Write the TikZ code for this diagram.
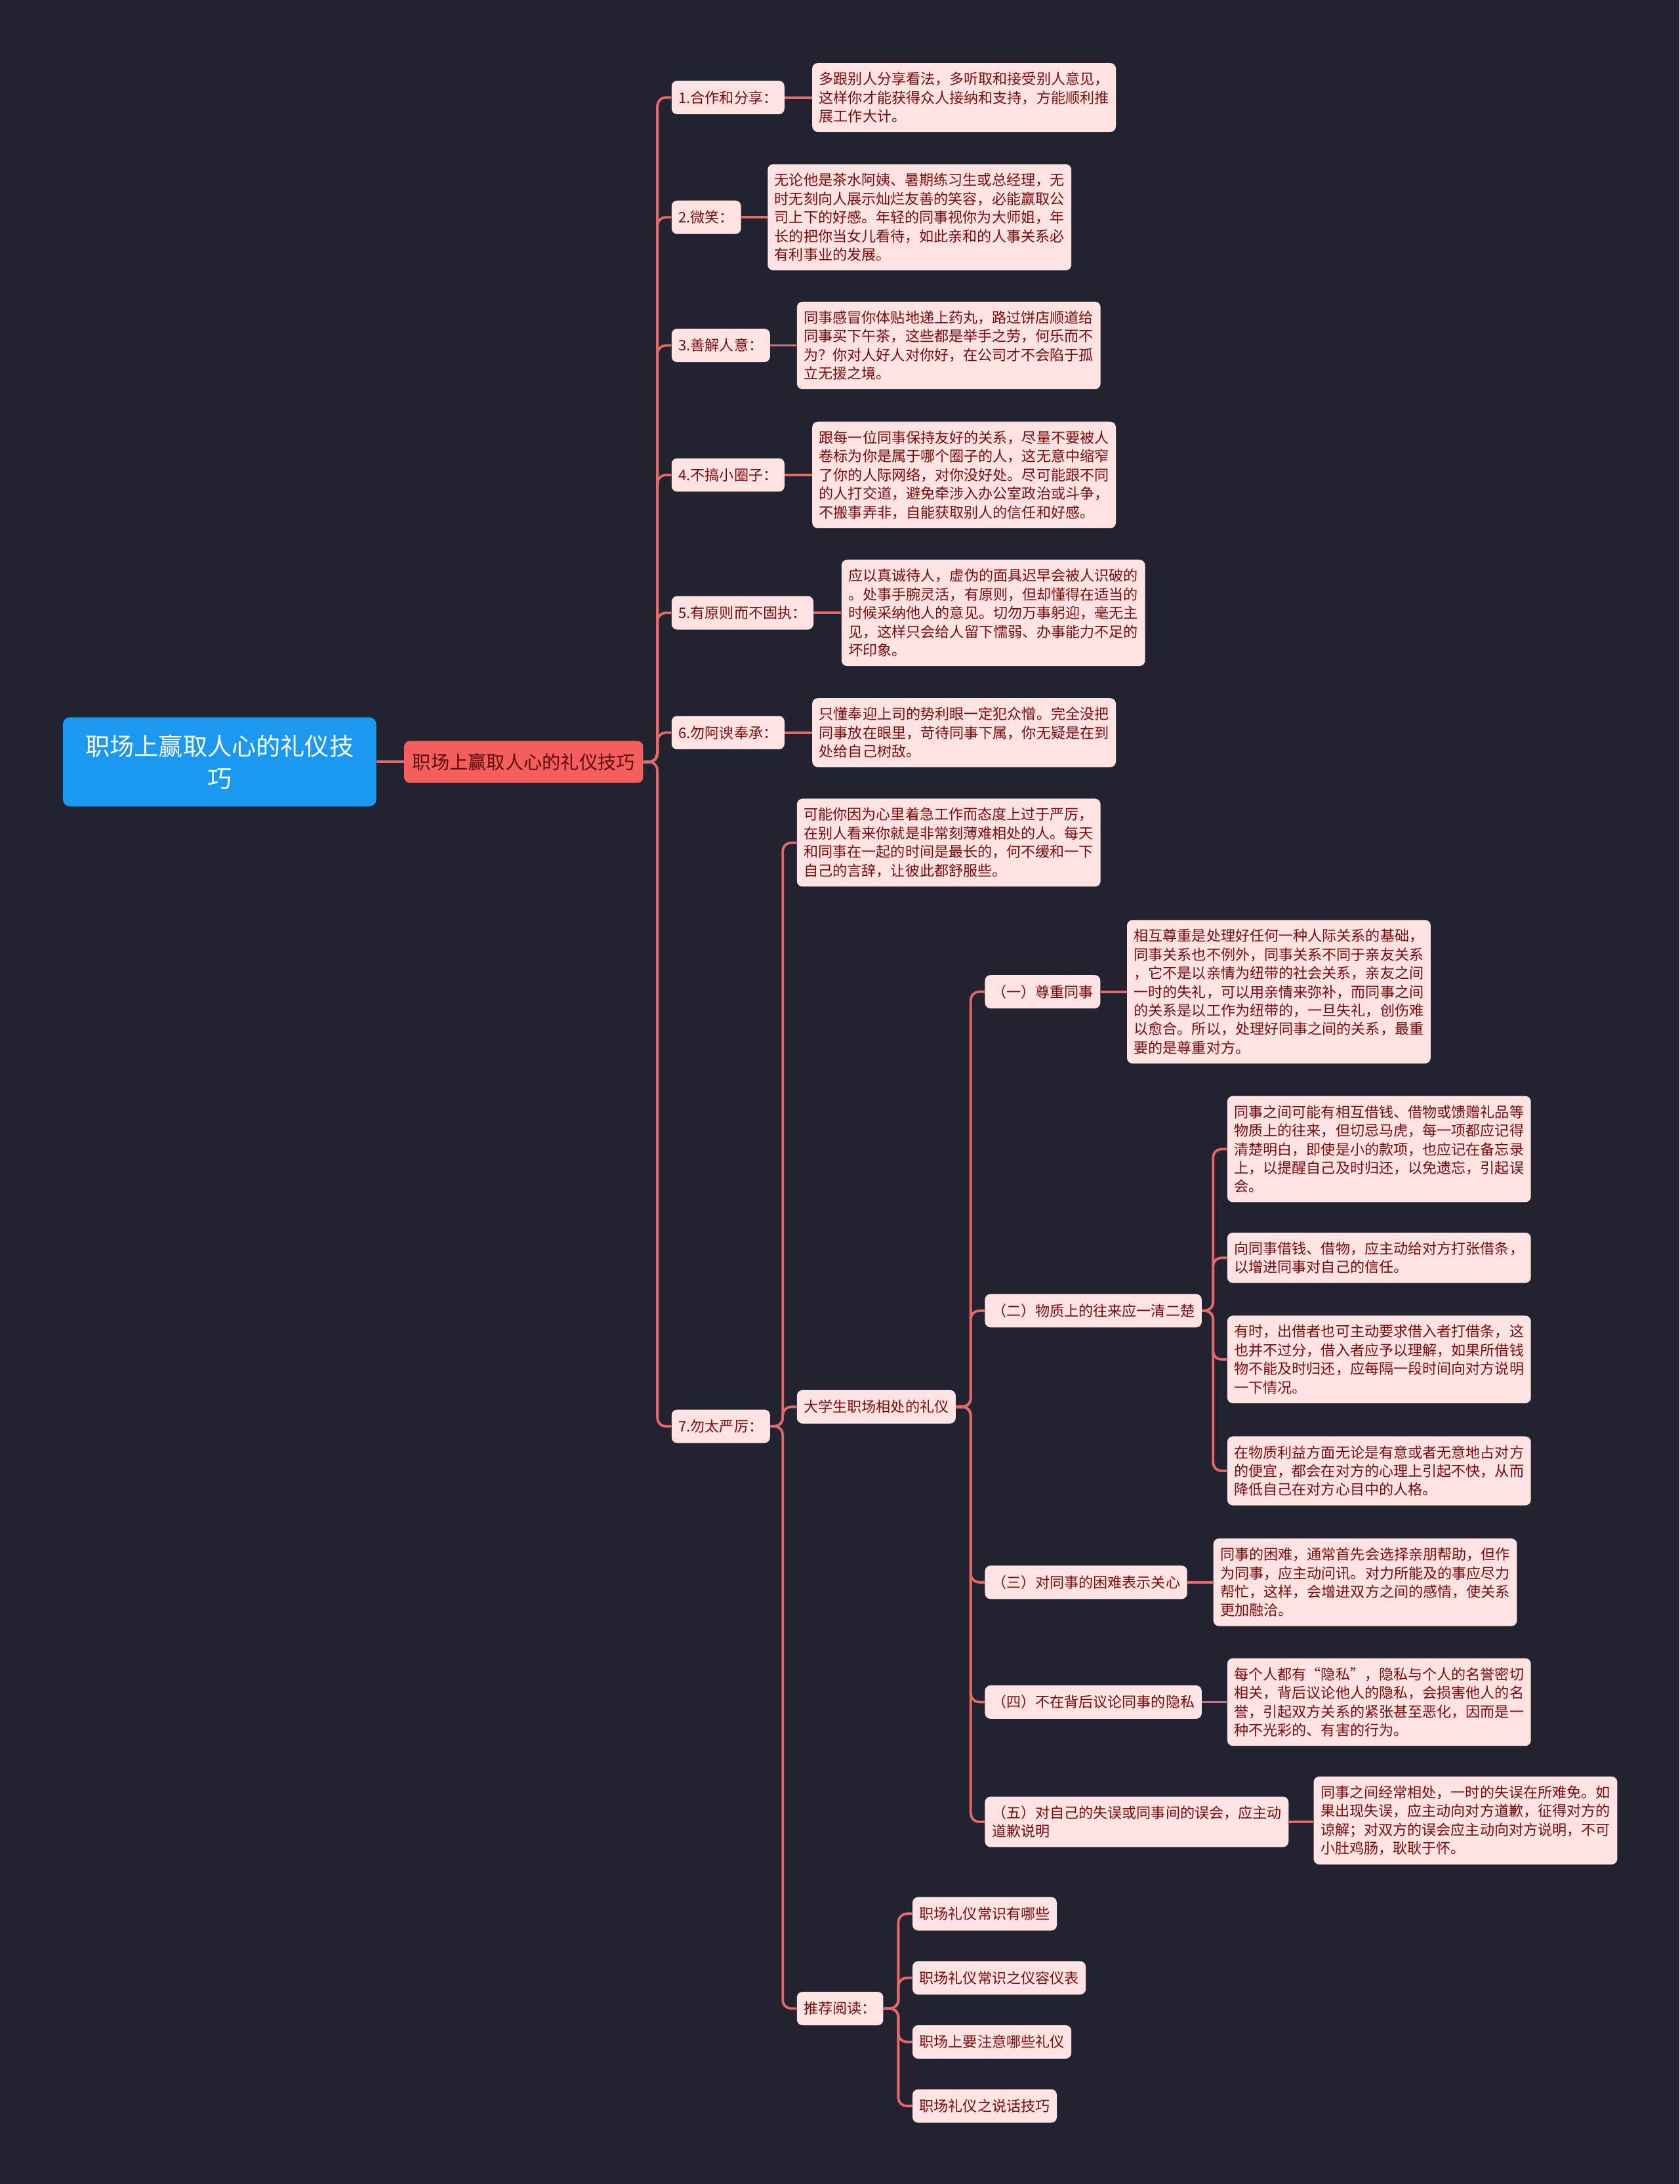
\documentclass[tikz,border=0pt]{standalone}
\usepackage{fontspec}
\setmainfont{Noto Sans CJK SC}
\usetikzlibrary{calc}
\definecolor{bgc}{RGB}{33,35,48}
\definecolor{lnk}{RGB}{230,104,104}
\definecolor{pinkfill}{RGB}{255,226,226}
\definecolor{darkred}{RGB}{120,12,12}
\definecolor{rootblue}{RGB}{27,152,240}
\definecolor{mainred}{RGB}{244,94,94}
\definecolor{maintext}{RGB}{90,8,8}
\begin{document}
\begin{tikzpicture}[x=1pt,y=-1pt,
  conn/.style={draw=lnk, line width=1.8pt, rounded corners=6pt},
  lbl/.style={fill=pinkfill, text=darkred, rounded corners=4pt, anchor=west,
    inner xsep=5pt, inner ysep=6.5pt, minimum height=24pt,
    font=\fontsize{10.4}{13.4}\selectfont, align=left},
  det/.style={lbl, minimum height=0pt},
  rootbox/.style={fill=rootblue, text=white, rounded corners=5pt, anchor=west,
    minimum width=225pt, minimum height=64pt, align=center,
    font=\fontsize{17.5}{23}\selectfont},
  mainbox/.style={fill=mainred, text=maintext, rounded corners=4pt, anchor=west,
    inner xsep=6pt, minimum height=30pt, font=\fontsize{13.3}{16}\selectfont}
]
\fill[bgc] (0,0) rectangle (1206,1568);
\useasboundingbox (0,0) rectangle (1206,1568);

% root and main
\node[rootbox] (root) at (45,547) {职场上赢取人心的礼仪技\\巧};
\node[mainbox] (main) at (290,547) {职场上赢取人心的礼仪技巧};

% level 1
\node[lbl] (n1) at (482,70) {1.合作和分享：};
\node[lbl] (n2) at (482,156) {2.微笑：};
\node[lbl] (n3) at (482,248) {3.善解人意：};
\node[lbl] (n4) at (482,341) {4.不搞小圈子：};
\node[lbl] (n5) at (482,440) {5.有原则而不固执：};
\node[lbl] (n6) at (482,526) {6.勿阿谀奉承：};
\node[lbl] (n7) at (482,1024) {7.勿太严厉：};

% details of level 1
\node[det] (d1) at (583,70) {多跟别人分享看法，多听取和接受别人意见，\\这样你才能获得众人接纳和支持，方能顺利推\\展工作大计。};
\node[det] (d2) at (551,156) {无论他是茶水阿姨、暑期练习生或总经理，无\\时无刻向人展示灿烂友善的笑容，必能赢取公\\司上下的好感。年轻的同事视你为大师姐，年\\长的把你当女儿看待，如此亲和的人事关系必\\有利事业的发展。};
\node[det] (d3) at (572,248) {同事感冒你体贴地递上药丸，路过饼店顺道给\\同事买下午茶，这些都是举手之劳，何乐而不\\为？你对人好人对你好，在公司才不会陷于孤\\立无援之境。};
\node[det] (d4) at (583,341) {跟每一位同事保持友好的关系，尽量不要被人\\卷标为你是属于哪个圈子的人，这无意中缩窄\\了你的人际网络，对你没好处。尽可能跟不同\\的人打交道，避免牵涉入办公室政治或斗争，\\不搬事弄非，自能获取别人的信任和好感。};
\node[det] (d5) at (604,440) {应以真诚待人，虚伪的面具迟早会被人识破的\\。处事手腕灵活，有原则，但却懂得在适当的\\时候采纳他人的意见。切勿万事躬迎，毫无主\\见，这样只会给人留下懦弱、办事能力不足的\\坏印象。};
\node[det] (d6) at (583,526) {只懂奉迎上司的势利眼一定犯众憎。完全没把\\同事放在眼里，苛待同事下属，你无疑是在到\\处给自己树敌。};

% children of 7
\node[det] (s1) at (572,605) {可能你因为心里着急工作而态度上过于严厉，\\在别人看来你就是非常刻薄难相处的人。每天\\和同事在一起的时间是最长的，何不缓和一下\\自己的言辞，让彼此都舒服些。};
\node[lbl] (u) at (572,1010) {大学生职场相处的礼仪};
\node[lbl] (r) at (572,1442) {推荐阅读：};

% children of u
\node[lbl] (k1) at (707,712) {（一）尊重同事};
\node[lbl] (k2) at (707,941) {（二）物质上的往来应一清二楚};
\node[lbl] (k3) at (707,1136) {（三）对同事的困难表示关心};
\node[lbl] (k4) at (707,1222) {（四）不在背后议论同事的隐私};
\node[lbl] (k5) at (707,1308) {（五）对自己的失误或同事间的误会，应主动\\道歉说明};

\node[det] (e1) at (809,712) {相互尊重是处理好任何一种人际关系的基础，\\同事关系也不例外，同事关系不同于亲友关系\\，它不是以亲情为纽带的社会关系，亲友之间\\一时的失礼，可以用亲情来弥补，而同事之间\\的关系是以工作为纽带的，一旦失礼，创伤难\\以愈合。所以，处理好同事之间的关系，最重\\要的是尊重对方。};
\node[det] (m1) at (881,825) {同事之间可能有相互借钱、借物或馈赠礼品等\\物质上的往来，但切忌马虎，每一项都应记得\\清楚明白，即使是小的款项，也应记在备忘录\\上，以提醒自己及时归还，以免遗忘，引起误\\会。};
\node[det] (m2) at (881,903) {向同事借钱、借物，应主动给对方打张借条，\\以增进同事对自己的信任。};
\node[det] (m3) at (881,976) {有时，出借者也可主动要求借入者打借条，这\\也并不过分，借入者应予以理解，如果所借钱\\物不能及时归还，应每隔一段时间向对方说明\\一下情况。};
\node[det] (m4) at (881,1056) {在物质利益方面无论是有意或者无意地占对方\\的便宜，都会在对方的心理上引起不快，从而\\降低自己在对方心目中的人格。};
\node[det] (e3) at (871,1136) {同事的困难，通常首先会选择亲朋帮助，但作\\为同事，应主动问讯。对力所能及的事应尽力\\帮忙，这样，会增进双方之间的感情，使关系\\更加融洽。};
\node[det] (e4) at (881,1222) {每个人都有“隐私”，隐私与个人的名誉密切\\相关，背后议论他人的隐私，会损害他人的名\\誉，引起双方关系的紧张甚至恶化，因而是一\\种不光彩的、有害的行为。};
\node[det] (e5) at (943,1307) {同事之间经常相处，一时的失误在所难免。如\\果出现失误，应主动向对方道歉，征得对方的\\谅解；对双方的误会应主动向对方说明，不可\\小肚鸡肠，耿耿于怀。};

% recommended reading
\node[lbl] (r1) at (655,1374) {职场礼仪常识有哪些};
\node[lbl] (r2) at (655,1420) {职场礼仪常识之仪容仪表};
\node[lbl] (r3) at (655,1466) {职场上要注意哪些礼仪};
\node[lbl] (r4) at (655,1512) {职场礼仪之说话技巧};

% bus coordinates
\coordinate (b0) at (472,0);
\coordinate (b7) at (562,0);
\coordinate (bu) at (697,0);
\coordinate (bk) at (871,0);
\coordinate (br) at (645,0);

% connectors
\draw[conn] (root.east) -- (main.west);
\foreach \c in {n1,n2,n3,n4,n5,n6,n7}
  \draw[conn] (main.east) -- (main.east -| b0) |- (\c.west);
\foreach \a/\b in {n1/d1,n2/d2,n3/d3,n4/d4,n5/d5,n6/d6,k1/e1,k3/e3,k4/e4,k5/e5}
  \draw[conn] (\a.east) -- (\a.east -| \b.west);
\foreach \c in {s1,u,r}
  \draw[conn] (n7.east) -- (n7.east -| b7) |- (\c.west);
\foreach \c in {k1,k2,k3,k4,k5}
  \draw[conn] (u.east) -- (u.east -| bu) |- (\c.west);
\foreach \c in {m1,m2,m3,m4}
  \draw[conn] (k2.east) -- (k2.east -| bk) |- (\c.west);
\foreach \c in {r1,r2,r3,r4}
  \draw[conn] (r.east) -- (r.east -| br) |- (\c.west);
\end{tikzpicture}
\end{document}
